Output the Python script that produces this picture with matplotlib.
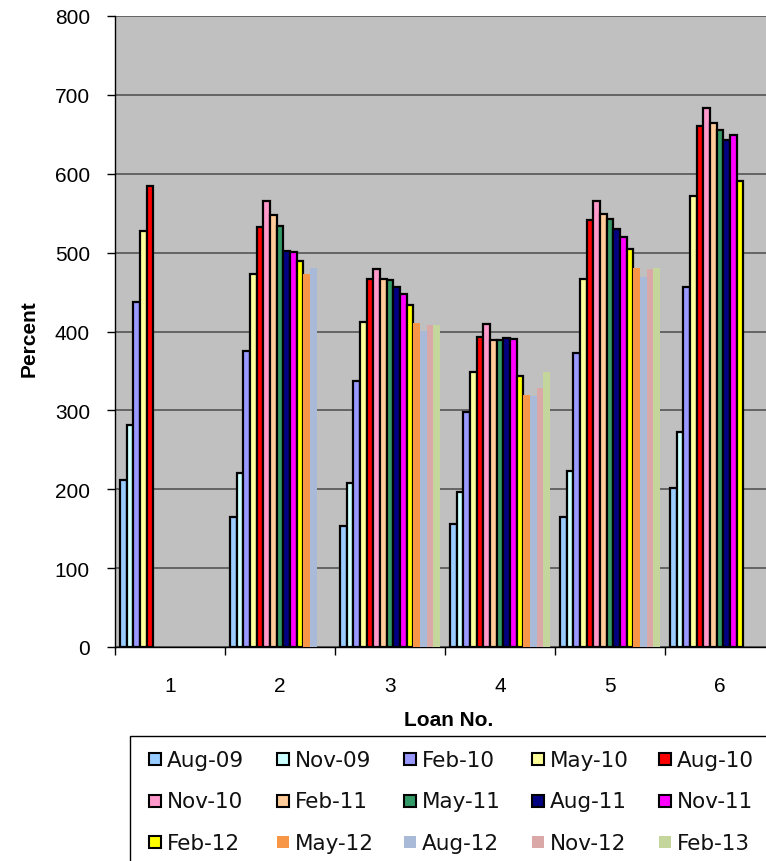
import matplotlib
matplotlib.use('Agg')
import matplotlib.pyplot as plt
from matplotlib.patches import Rectangle
import numpy as np

plt.rcParams['font.family'] = ['Liberation Sans', 'DejaVu Sans']

nan = np.nan

# Data
loans = ['1', '2', '3', '4', '5', '6']
periods = ['Aug-09', 'Nov-09', 'Feb-10', 'May-10', 'Aug-10',
           'Nov-10', 'Feb-11', 'May-11', 'Aug-11', 'Nov-11',
           'Feb-12', 'May-12', 'Aug-12', 'Nov-12', 'Feb-13']

loan1 = [212, 281, 438, 527, 584, nan, nan, nan, nan, nan, nan, nan, nan, nan, nan]
loan2 = [165, 221, 375, 473, 532, 565, 548, 534, 502, 501, 490, 473, 481, nan, nan]
loan3 = [154, 208, 337, 412, 466, 479, 467, 465, 456, 448, 434, 411, 401, 408, 408]
loan4 = [156, 196, 298, 349, 393, 409, 389, 389, 392, 390, 343, 319, 318, 328, 349]
loan5 = [165, 223, 373, 466, 541, 566, 549, 542, 530, 520, 504, 480, 469, 479, 480]
loan6 = [201, 272, 457, 572, 660, 683, 664, 655, 643, 649, 591, nan, nan, nan, nan]

colors = ['#99CCFF', '#CCFFFF', '#9999FF', '#FFFF99', '#FF0000',
          '#FF99CC', '#FFCC99', '#339966', '#000080', '#FF00FF',
          '#FFFF00', '#F79646', '#A9BAD9', '#DAA9A7', '#C4D69B']
bordered = [True] * 11 + [False] * 4

values = np.array([loan1, loan2, loan3, loan4, loan5, loan6])

W, H = 766, 862
fig = plt.figure(figsize=(W / 100, H / 100), dpi=100)
ax = fig.add_axes([115 / W, (H - 648) / H, 660 / W, 631 / H])
ax.set_facecolor('#C0C0C0')

# bars
n = len(periods)
bw = 0.909 / n
x0 = np.arange(len(loans))
for i in range(n):
    pos = x0 + 0.0455 + (i + 0.5) * bw
    if bordered[i]:
        ax.bar(pos, values[:, i], width=bw, color=colors[i],
               edgecolor='black', linewidth=1.6, zorder=3)
    else:
        ax.bar(pos, values[:, i], width=bw, color=colors[i],
               linewidth=0, zorder=3)

# axes
ax.set_xlim(0, 6)
ax.set_ylim(0, 800)
ax.set_yticks(np.arange(0, 801, 100))
ax.yaxis.grid(True, color='#555555', linewidth=1.2, zorder=1)
ax.set_axisbelow(True)
ax.tick_params(axis='y', direction='out', length=6, width=1,
               labelsize=15, pad=12)
ax.set_xticks(np.arange(0, 7))
ax.set_xticklabels([])
ax.set_xticks(x0 + 0.5, minor=True)
ax.set_xticklabels(loans, minor=True)
ax.tick_params(axis='x', which='major', direction='out', length=6, width=1)
ax.tick_params(axis='x', which='minor', length=0, labelsize=15, pad=21)
for s in ['top', 'right']:
    ax.spines[s].set_visible(False)
ax.spines['left'].set_linewidth(1)
ax.spines['bottom'].set_linewidth(1)

ax.set_ylabel('Percent', fontsize=15, fontweight='bold')
ax.yaxis.set_label_coords(-0.115, 0.49)
ax.set_xlabel('Loan No.', fontsize=15, fontweight='bold')
ax.xaxis.set_label_coords(0.505, -0.1)

# legend (Excel style, frame runs off the figure edge)
def fx(px):
    return px / W

def fy(py):
    return 1 - py / H

fig.patches.append(Rectangle((fx(130), fy(895)), fx(790) - fx(130), fy(737) - fy(895),
                             transform=fig.transFigure, facecolor='white',
                             edgecolor='black', linewidth=1, zorder=0))
for i, name in enumerate(periods):
    row, col = divmod(i, 5)
    cx = 155 + col * 127.5
    cy = 760 + row * 41.5
    sq = 12
    fig.patches.append(Rectangle((fx(cx - sq / 2), fy(cy + sq / 2)), sq / W, sq / H,
                                 transform=fig.transFigure, facecolor=colors[i],
                                 edgecolor='black' if bordered[i] else 'none',
                                 linewidth=1.5, zorder=2))
    fig.text(fx(cx + 12), fy(cy + 7), name, fontsize=15.5, color='#111111',
             family='DejaVu Sans', va='baseline', ha='left')

fig.savefig('out.png', dpi=100)
